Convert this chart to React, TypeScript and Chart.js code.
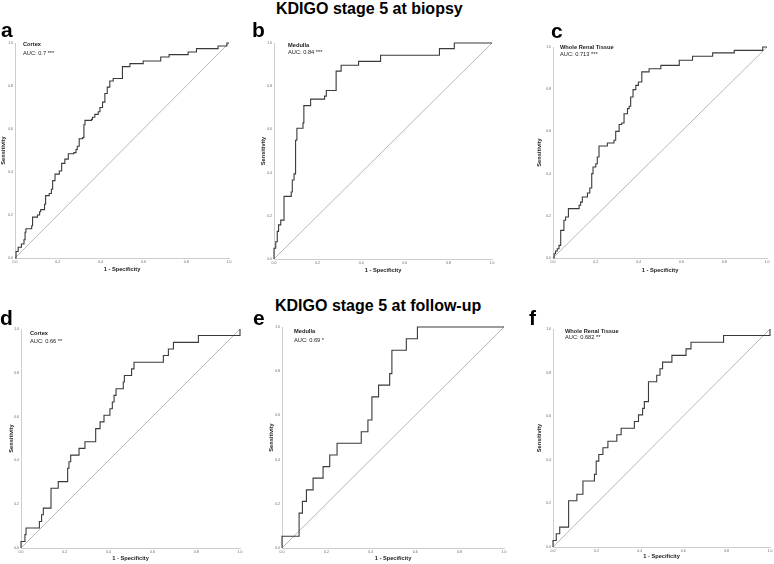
import React, { useEffect, useRef } from "react";
import { Chart, registerables } from "chart.js";
Chart.register(...registerables);

// ---- data ----
const tickValues = [0, 0.2, 0.4, 0.6, 0.8, 1.0];
const tickLabels = ["0.0", "0.2", "0.4", "0.6", "0.8", "1.0"];

const sectionTitles = ["KDIGO stage 5 at biopsy", "KDIGO stage 5 at follow-up"];
const panelLetters = ["a", "b", "c", "d", "e", "f"];
const tissues = ["Cortex", "Medulla", "Whole Renal Tissue", "Cortex", "Medulla", "Whole Renal Tissue"];
const aucLabels = ["AUC: 0.7 ***", "AUC: 0.84 ***", "AUC: 0.713 ***", "AUC: 0.66 **", "AUC: 0.69 *", "AUC: 0.682 **"];

// ROC points (1 - specificity, sensitivity)
const aFpr = [0, 0.005, 0.015, 0.03, 0.042, 0.047, 0.051, 0.078, 0.082, 0.105, 0.115, 0.12, 0.138, 0.143, 0.16, 0.17, 0.176, 0.187, 0.207, 0.218, 0.233, 0.249, 0.275, 0.285, 0.291, 0.3, 0.316, 0.322, 0.327, 0.358, 0.362, 0.373, 0.389, 0.397, 0.409, 0.42, 0.431, 0.443, 0.459, 0.502, 0.537, 0.599, 0.681, 0.72, 0.809, 0.848, 0.949, 0.99, 1];
const aTpr = [0, 0.03, 0.05, 0.065, 0.085, 0.12, 0.136, 0.15, 0.19, 0.2, 0.215, 0.225, 0.25, 0.29, 0.3, 0.32, 0.36, 0.39, 0.405, 0.44, 0.46, 0.485, 0.49, 0.505, 0.52, 0.555, 0.56, 0.62, 0.64, 0.645, 0.655, 0.668, 0.68, 0.7, 0.725, 0.765, 0.795, 0.823, 0.835, 0.89, 0.904, 0.916, 0.935, 0.946, 0.958, 0.974, 0.986, 1, 1];

const bFpr = [0, 0, 0.008, 0.015, 0.021, 0.031, 0.046, 0.079, 0.084, 0.092, 0.099, 0.105, 0.133, 0.137, 0.168, 0.232, 0.24, 0.285, 0.308, 0.388, 0.489, 0.759, 0.827, 1];
const bTpr = [0, 0.05, 0.08, 0.128, 0.158, 0.18, 0.29, 0.31, 0.366, 0.394, 0.55, 0.605, 0.63, 0.71, 0.74, 0.754, 0.78, 0.87, 0.897, 0.915, 0.943, 0.974, 1, 1];

const cFpr = [0, 0.005, 0.012, 0.02, 0.028, 0.036, 0.051, 0.059, 0.072, 0.122, 0.129, 0.137, 0.161, 0.172, 0.181, 0.187, 0.2, 0.207, 0.215, 0.254, 0.285, 0.293, 0.309, 0.321, 0.332, 0.348, 0.356, 0.363, 0.374, 0.387, 0.399, 0.415, 0.449, 0.504, 0.59, 0.652, 0.746, 0.847, 0.98, 1];
const cTpr = [0, 0.02, 0.033, 0.044, 0.06, 0.131, 0.179, 0.194, 0.234, 0.25, 0.265, 0.289, 0.308, 0.332, 0.4, 0.431, 0.447, 0.479, 0.531, 0.545, 0.558, 0.6, 0.633, 0.64, 0.684, 0.708, 0.719, 0.763, 0.798, 0.818, 0.834, 0.882, 0.897, 0.913, 0.937, 0.956, 0.972, 0.984, 1, 1];

const dFpr = [0, 0, 0.018, 0.023, 0.084, 0.094, 0.102, 0.137, 0.17, 0.213, 0.219, 0.227, 0.265, 0.292, 0.341, 0.361, 0.379, 0.406, 0.417, 0.425, 0.434, 0.467, 0.472, 0.505, 0.516, 0.65, 0.673, 0.696, 0.81, 1];
const dTpr = [0, 0.03, 0.061, 0.091, 0.121, 0.152, 0.182, 0.273, 0.303, 0.364, 0.394, 0.424, 0.455, 0.485, 0.545, 0.576, 0.606, 0.636, 0.667, 0.697, 0.727, 0.758, 0.788, 0.818, 0.848, 0.879, 0.909, 0.939, 0.97, 1];

const eFpr = [0, 0, 0.077, 0.092, 0.11, 0.14, 0.185, 0.215, 0.248, 0.357, 0.387, 0.405, 0.435, 0.485, 0.495, 0.56, 0.61, 1];
const eTpr = [0, 0.053, 0.158, 0.211, 0.263, 0.316, 0.368, 0.421, 0.474, 0.526, 0.579, 0.684, 0.737, 0.789, 0.895, 0.947, 1, 1];

const fFpr = [0, 0, 0.015, 0.031, 0.072, 0.11, 0.138, 0.191, 0.199, 0.211, 0.23, 0.253, 0.294, 0.314, 0.375, 0.394, 0.413, 0.421, 0.44, 0.478, 0.493, 0.505, 0.548, 0.613, 0.636, 0.786, 1];
const fTpr = [0, 0.03, 0.061, 0.091, 0.212, 0.242, 0.303, 0.333, 0.394, 0.424, 0.455, 0.485, 0.515, 0.545, 0.576, 0.606, 0.636, 0.667, 0.758, 0.788, 0.818, 0.848, 0.879, 0.909, 0.939, 0.97, 1];

const fprSeries = [aFpr, bFpr, cFpr, dFpr, eFpr, fFpr];
const tprSeries = [aTpr, bTpr, cTpr, dTpr, eTpr, fTpr];
const diagonal = [0, 1];

// ---- layout (plot-area pixel boxes, axis sizes, annotation offsets) ----
const layouts = [
  { x0: 15, y0: 43, x1: 229, y1: 258, wy: 15, hx: 15, dx: 8, dy1: 1.5, dy2: 10 },
  { x0: 274, y0: 43, x1: 492, y1: 259, wy: 14, hx: 15, dx: 14, dy1: 2, dy2: 9 },
  { x0: 553, y0: 47, x1: 767, y1: 258, wy: 17, hx: 16, dx: 7, dy1: 0, dy2: 7 },
  { x0: 21, y0: 329, x1: 240, y1: 548, wy: 13, hx: 14, dx: 9, dy1: 4, dy2: 12.5 },
  { x0: 282, y0: 327, x1: 504, y1: 548, wy: 14, hx: 14, dx: 12, dy1: 4, dy2: 13.5 },
  { x0: 553, y0: 329, x1: 770, y1: 547, wy: 17, hx: 13, dx: 12, dy1: 2, dy2: 8.5 },
];
const letterPos = [
  { left: 1, base: 37 }, { left: 252, base: 37 }, { left: 551, base: 38 },
  { left: 0, base: 325 }, { left: 253, base: 325 }, { left: 529, base: 325 },
];
const titlePos = [
  { left: 276, base: 15 }, { left: 275, base: 311.5 },
];

const FAMILY = 'Arial, "Liberation Sans", Helvetica, sans-serif';
const PAD = 8;

function Panel({ idx }: { idx: number }) {
  const ref = useRef<HTMLCanvasElement>(null);
  const l = layouts[idx];
  const left = l.x0 - l.wy;
  const top = l.y0 - PAD;
  const w = l.x1 - l.x0 + l.wy + PAD;
  const h = l.y1 - l.y0 + PAD + l.hx;

  useEffect(() => {
    if (!ref.current) return;
    const fpr = fprSeries[idx];
    const tpr = tprSeries[idx];
    const annot = {
      id: "annot" + idx,
      afterDatasetsDraw(chart: any) {
        const { ctx, chartArea } = chart;
        ctx.save();
        ctx.fillStyle = "#1a1a1a";
        ctx.textBaseline = "middle";
        ctx.textAlign = "left";
        ctx.font = `bold 5.7px ${FAMILY}`;
        ctx.fillText(tissues[idx], chartArea.left + l.dx, chartArea.top + l.dy1);
        ctx.font = `5.7px ${FAMILY}`;
        ctx.fillText(aucLabels[idx], chartArea.left + l.dx, chartArea.top + l.dy2);
        ctx.restore();
      },
    };
    const tickCfg = {
      font: { size: 3.5, family: FAMILY },
      color: "#666",
      padding: 2,
      callback: (_v: any, i: number) => tickLabels[i],
    };
    const chart = new Chart(ref.current, {
      type: "line",
      data: {
        datasets: [
          {
            data: fpr.map((x, i) => ({ x, y: tpr[i] })),
            stepped: "before",
            borderColor: "#3a3a3a",
            borderWidth: 1.1,
            pointRadius: 0,
            fill: false,
            clip: false,
            order: 0,
          } as any,
          {
            data: diagonal.map((v) => ({ x: v, y: v })),
            borderColor: "#b0b0b0",
            borderWidth: 0.9,
            pointRadius: 0,
            fill: false,
            clip: false,
            order: 1,
          } as any,
        ],
      },
      options: {
        animation: false,
        responsive: false,
        events: [],
        layout: { padding: { left: 0, top: PAD, right: PAD, bottom: 0 } },
        plugins: { legend: { display: false }, tooltip: { enabled: false } },
        scales: {
          x: {
            type: "linear",
            min: 0,
            max: 1,
            afterBuildTicks: (s: any) => { s.ticks = tickValues.map((v) => ({ value: v })); },
            afterFit: (s: any) => { s.height = l.hx; },
            ticks: { ...tickCfg, maxRotation: 0, autoSkip: false },
            grid: { display: false, drawTicks: false },
            border: { display: true, color: "#cdcdcd", width: 1 },
            title: { display: true, text: "1 - Specificity", color: "#1a1a1a", padding: 0, font: { size: 5.7, weight: "bold", family: FAMILY } },
          },
          y: {
            type: "linear",
            min: 0,
            max: 1,
            afterBuildTicks: (s: any) => { s.ticks = tickValues.map((v) => ({ value: v })); },
            afterFit: (s: any) => { s.width = l.wy; },
            ticks: { ...tickCfg, autoSkip: false },
            grid: { display: false, drawTicks: false },
            border: { display: true, color: "#cdcdcd", width: 1 },
            title: { display: true, text: "Sensitivity", color: "#1a1a1a", padding: 0, font: { size: 5.7, weight: "bold", family: FAMILY } },
          },
        },
      } as any,
      plugins: [annot],
    });
    return () => chart.destroy();
  }, [idx]);

  return (
    <canvas
      ref={ref}
      width={w}
      height={h}
      style={{ position: "absolute", left, top, width: w, height: h }}
    />
  );
}

export default function App() {
  const textBase: React.CSSProperties = {
    position: "absolute",
    fontFamily: FAMILY,
    fontWeight: "bold",
    lineHeight: 1,
    whiteSpace: "nowrap",
    color: "#000",
  };
  return (
    <div
      style={{
        position: "absolute",
        left: 0,
        top: 0,
        width: 774,
        height: 564,
        overflow: "hidden",
        background: "#fff",
      }}
    >
      {layouts.map((_, i) => (
        <Panel key={i} idx={i} />
      ))}
      {sectionTitles.map((t, i) => (
        <div key={t} style={{ ...textBase, fontSize: 16, left: titlePos[i].left, top: titlePos[i].base - 0.8465 * 16 }}>
          {t}
        </div>
      ))}
      {panelLetters.map((c, i) => (
        <div key={c} style={{ ...textBase, fontSize: 21, left: letterPos[i].left, top: letterPos[i].base - 0.8465 * 21 }}>
          {c}
        </div>
      ))}
    </div>
  );
}
